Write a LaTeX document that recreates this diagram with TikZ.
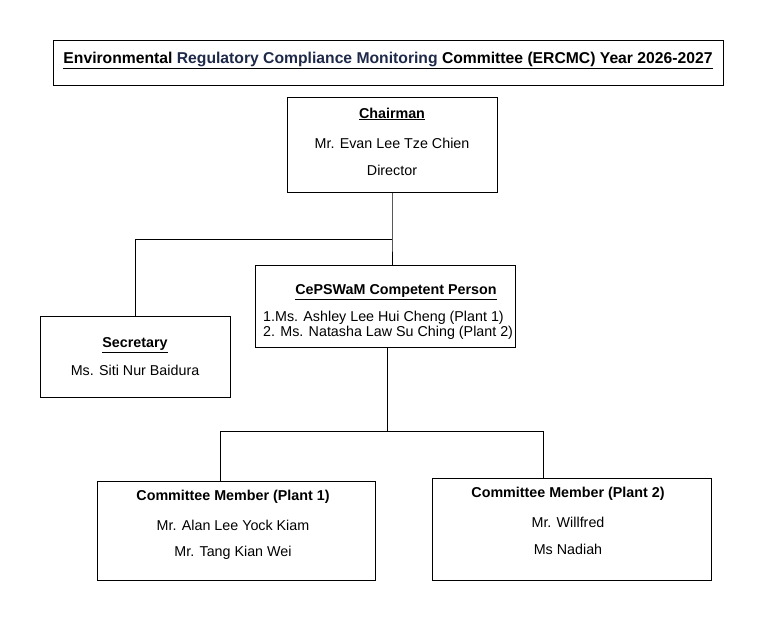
\documentclass[tikz,border=0pt]{standalone}
\usepackage{fontspec}
\setmainfont{Liberation Sans}
\definecolor{navy}{HTML}{1F2A4A}
\begin{document}
\begin{tikzpicture}[x=1pt,y=-1pt,
  box/.style={draw,line width=0.8pt,inner sep=0pt},
  ln/.style={line width=0.8pt},
  t/.style={font=\fontsize{14.3}{16}\selectfont,anchor=center,inner sep=0pt},
  tb/.style={t,font=\fontsize{14.3}{16}\selectfont\bfseries}]
\useasboundingbox (0,0) rectangle (771,620);
\node[box,minimum width=670,minimum height=45] (title) at (388,62.5) {};
\node[t,font=\fontsize{15.7}{18}\selectfont\bfseries] (tt) at (388,60) {\underline{Environmental \textcolor{navy}{Regulatory Compliance Monitoring} Committee (ERCMC) Year 2026-2027}};
% chairman
\node[box,minimum width=210,minimum height=95] (ch) at (392,144.5) {};
\node[tb] (ch1) at (392,114) {\underline{Chairman}};
\node[t] (ch2) at (392,143) {Mr. Evan Lee Tze Chien};
\node[t] (ch3) at (392,170) {Director};
% cepswam
\node[box,minimum width=260,minimum height=82] (cp) at (385,306) {};
\node[tb] (cp1) at (396,292) {\underline{CePSWaM Competent Person}};
\node[t,anchor=west] (cp2) at (263,318) {1.Ms. Ashley Lee Hui Cheng (Plant 1)};
\node[t,anchor=west] (cp3) at (263,333) {2. Ms. Natasha Law Su Ching (Plant 2)};
% secretary
\node[box,minimum width=190,minimum height=81] (se) at (135,356.5) {};
\node[tb] (se1) at (135,345) {\underline{Secretary}};
\node[t] (se2) at (135,370) {Ms. Siti Nur Baidura};
% members
\node[box,minimum width=278,minimum height=99] (m1) at (236,530.5) {};
\node[tb] (m11) at (233,497) {Committee Member (Plant 1)};
\node[t] (m12) at (233,525) {Mr. Alan Lee Yock Kiam};
\node[t] (m13) at (233,553) {Mr. Tang Kian Wei};
\node[box,minimum width=279,minimum height=102] (m2) at (571.5,529) {};
\node[tb] (m21) at (568,494) {Committee Member (Plant 2)};
\node[t] (m22) at (568,522) {Mr. Willfred};
\node[t] (m23) at (568,549) {Ms Nadiah};
% connectors
\coordinate (j1) at (392,239);
\coordinate (j2) at (387,431);
\draw[ln] (ch.south) -- (j1) -- (cp.north -| j1);
\draw[ln] (j1) -- (j1 -| se.north) -- (se.north);
\draw[ln] (cp.south -| j2) -- (j2);
\draw[ln] (220,431) -- (543,431);
\draw[ln] (220,431) -- (220,481);
\draw[ln] (543,431) -- (543,478);
\end{tikzpicture}
\end{document}
